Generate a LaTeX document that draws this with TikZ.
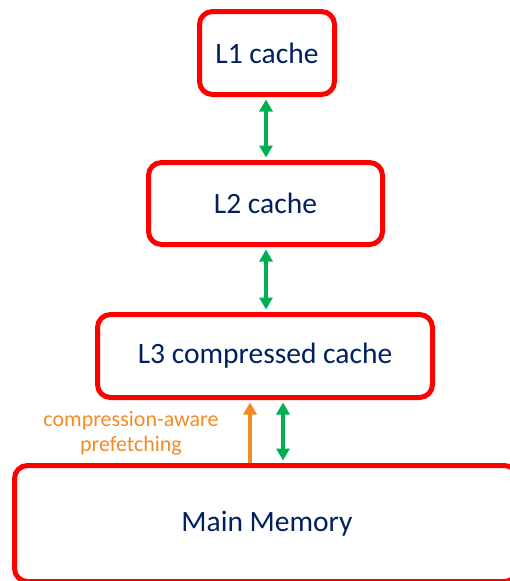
\documentclass[tikz,border=0pt]{standalone}
\usepackage{fontspec}
\setmainfont{Carlito}
\usetikzlibrary{arrows.meta}
\definecolor{boxred}{HTML}{FF0000}
\definecolor{txtblue}{HTML}{002060}
\definecolor{arrgreen}{HTML}{00B050}
\definecolor{arrorange}{HTML}{F48A25}
\begin{document}
\begin{tikzpicture}[x=1pt,y=-1pt,
  cachebox/.style={draw=boxred, line width=5pt, rounded corners=13pt, fill=white,
    text=txtblue, font=\fontsize{29.5}{34}\selectfont, inner sep=0pt},
  gboth/.style={draw=arrgreen, line width=4pt,
    {Triangle[width=13pt,length=12pt]}-{Triangle[width=13pt,length=12pt]},
    shorten <=2.5pt, shorten >=2.5pt},
  oup/.style={draw=arrorange, line width=4pt, -{Triangle[width=13pt,length=12pt]},
    shorten >=2.5pt},
  lbl/.style={text=arrorange, font=\fontsize{22}{25}\selectfont, align=center, inner sep=0pt}]
\useasboundingbox (0,0) rectangle (509,581);
\node[cachebox, minimum width=135pt, minimum height=83pt] (L1) at (267,53) {L1 cache};
\node[cachebox, minimum width=234pt, minimum height=82pt] (L2) at (265.5,203.5) {L2 cache};
\node[cachebox, minimum width=335pt, minimum height=83pt] (L3) at (265,356) {L3 compressed cache};
\node[cachebox, minimum width=503pt, minimum height=116pt] (MM) at (266,523.5) {\hspace*{2pt}Main Memory};
\coordinate (gx) at (283,0);
\coordinate (ox) at (250,0);
\coordinate (cx) at (266,0);
\draw[gboth] (cx |- L1.south) -- (cx |- L2.north);
\draw[gboth] (cx |- L2.south) -- (cx |- L3.north);
\draw[gboth] (gx |- L3.south) -- (gx |- MM.north);
\draw[oup] (ox |- MM.north) -- (ox |- L3.south);
\node[lbl] (pf) at (131,433) {compression-aware\\prefetching};
\end{tikzpicture}
\end{document}
